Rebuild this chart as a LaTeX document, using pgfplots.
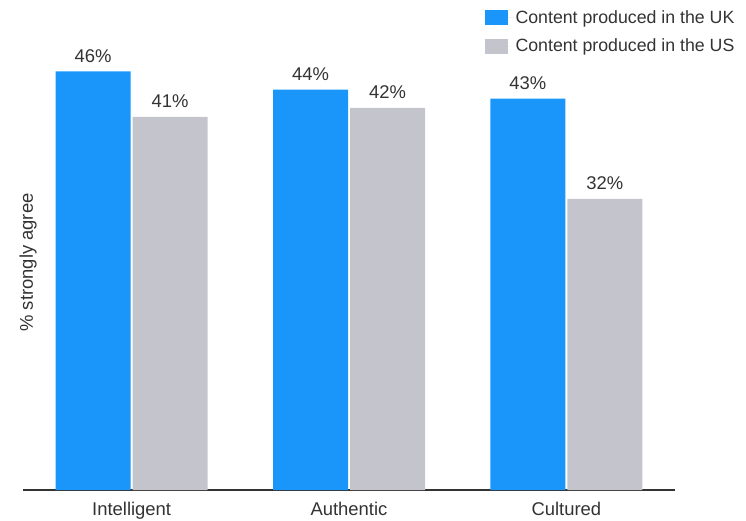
\documentclass[border=0pt]{standalone}
\usepackage{pgfplots}
\pgfplotsset{compat=1.18}
\usepackage{fontspec}
\setmainfont{Liberation Sans}
\definecolor{ukblue}{HTML}{1A96FA}
\definecolor{usgray}{HTML}{C4C4CC}
\definecolor{txt}{HTML}{333333}
\pgfplotsset{ybar legend/.style={legend image code/.code={\fill[##1] (0bp,-7.5bp) rectangle (23bp,7.5bp); \path (0bp,0bp) -- (29bp,0bp);}}}
\begin{document}
\begin{tikzpicture}
\useasboundingbox (0,0) rectangle (746bp,521bp);
\begin{axis}[
  at={(23bp,31bp)}, anchor=south west,
  scale only axis, width=652bp, height=455bp,
  xmin=-0.5, xmax=2.5, ymin=0, ymax=50,
  axis lines*=left,
  x axis line style={draw=txt, line width=1.3bp},
  y axis line style={draw=none},
  ytick=\empty,
  xtick={0,1,2}, xticklabels={Intelligent,Authentic,Cultured},
  major tick length=0pt,
  xticklabel style={font=\fontsize{18.5}{22}\selectfont, text=txt, inner sep=0pt, anchor=north, yshift=-12bp},
  ybar=2bp, bar width=75bp,
  nodes near coords={\pgfmathprintnumber[assume math mode=true]{\pgfplotspointmeta}\%},
  nodes near coords style={font=\fontsize{18.5}{22}\selectfont, text=txt, inner sep=0pt, anchor=south, yshift=9bp},
  ylabel={\% strongly agree},
  ylabel style={at={(axis description cs:0.008,0.5)}, anchor=center, font=\fontsize{18.5}{22}\selectfont, text=txt},
  legend style={at={(axis description cs:0.703,1.063)}, anchor=north west, draw=none, fill=none,
    font=\fontsize{17.8}{21}\selectfont, text=txt, row sep=10bp,
    nodes={inner sep=2bp}},
  legend cell align=left,
  clip=false,
]
\addplot[fill=ukblue, draw=none] coordinates {(0,46) (1,44) (2,43)};
\addplot[fill=usgray, draw=none] coordinates {(0,41) (1,42) (2,32)};
\legend{Content produced in the UK, Content produced in the US}
\end{axis}
\end{tikzpicture}
\end{document}
